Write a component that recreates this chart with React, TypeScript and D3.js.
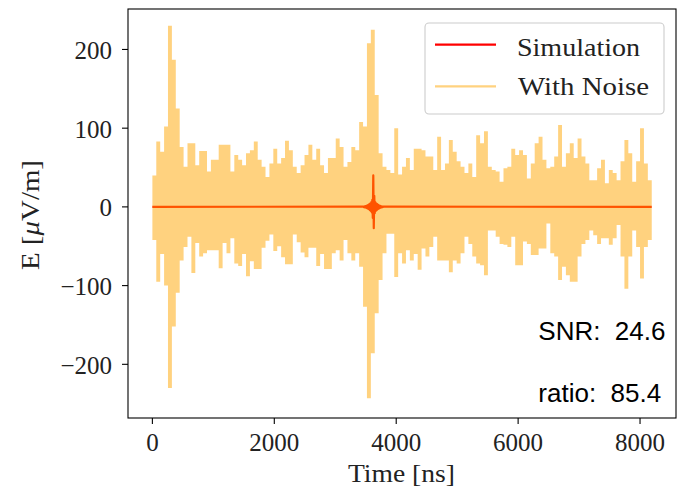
import React from "react";
import * as d3 from "d3";

const W = 679;
const H = 491;
const FRAME = { left: 128, right: 676, top: 9, bottom: 418 };

const xTicks = [0, 2000, 4000, 6000, 8000];
const yTicks = [-200, -100, 0, 100, 200];
const xTickLabels = ["0", "2000", "4000", "6000", "8000"];
const yTickLabels = ["\u2212200", "\u2212100", "0", "100", "200"];

// Noise trace: per 64 ns window, the highest and lowest excursion
const SEG_NS = 64;
const noiseHigh = [
  40, 83, 70, 102, 230, 187, 125, 76, 51, 81,
  81, 53, 71, 71, 45, 60, 60, 79, 79, 79,
  45, 66, 60, 53, 68, 72, 83, 60, 51, 38,
  55, 74, 55, 62, 84, 72, 51, 43, 53, 66,
  79, 60, 74, 53, 43, 62, 62, 87, 76, 51,
  57, 76, 72, 108, 102, 208, 225, 142, 68, 51,
  47, 43, 100, 41, 51, 62, 47, 74, 74, 72,
  64, 64, 47, 89, 47, 55, 85, 70, 58, 51,
  43, 55, 38, 91, 81, 96, 51, 47, 45, 32,
  49, 51, 74, 66, 72, 66, 36, 55, 81, 89,
  60, 49, 51, 64, 104, 51, 68, 81, 62, 87,
  64, 55, 34, 34, 49, 60, 30, 47, 43, 34,
  58, 85, 68, 32, 58, 100, 55, 34,
];
const noiseLow = [
  -42, -95, -60, -100, -230, -152, -109, -68, -51, -38,
  -84, -46, -63, -59, -55, -55, -55, -78, -46, -59,
  -40, -72, -75, -60, -88, -69, -79, -79, -52, -43,
  -35, -56, -50, -64, -73, -73, -35, -45, -58, -64,
  -52, -52, -75, -60, -79, -79, -59, -55, -68, -42,
  -59, -68, -59, -76, -127, -243, -186, -135, -93, -59,
  -34, -34, -89, -59, -72, -55, -68, -60, -80, -53,
  -63, -51, -38, -68, -68, -68, -83, -68, -72, -59,
  -38, -47, -63, -72, -74, -87, -30, -30, -38, -47,
  -48, -51, -38, -74, -74, -44, -47, -61, -61, -53,
  -53, -21, -59, -63, -93, -76, -87, -95, -95, -63,
  -47, -42, -30, -36, -47, -40, -40, -48, -40, -23,
  -63, -104, -63, -30, -51, -91, -51, -42,
];
const noiseEndTime = 8192;

// Simulation: flat, with a short pulse
const simStart = 0;
const simEnd = 8191;
const pulseStart = 3464;
const pulseStep = 8;
const pulseValues = [
  0.3, -0.4, 0.5, -0.6, 0.8, -1, 1.2, -1.5, 1.8, -2.2,
  2.6, -3, 3.5, -4, 4.5, -5, 6, -7, 9, -14,
  40, -27, 14, -8, 6, -5, 4.5, -4, 3.5, -3,
  2.6, -2.2, 1.8, -1.5, 1.2, -1, 0.8, -0.6, 0.5, -0.4, 0.3,
];

const snrText = "SNR:  24.6";
const ratioText = "ratio:  85.4";

const SERIF = "'Liberation Serif', 'DejaVu Serif', serif";
const SANS = "'Liberation Sans', Arial, sans-serif";

type Seg = { t: number; hi: number; lo: number };

export default function App() {
  const x = d3.scaleLinear().domain([-400, 8590]).range([FRAME.left, FRAME.right]);
  const y = d3.scaleLinear().domain([-268.2, 251.4]).range([FRAME.bottom, FRAME.top]);

  const segs: Seg[] = noiseHigh.map((h, i) => ({ t: i * SEG_NS, hi: h, lo: noiseLow[i] }));
  const last = segs[segs.length - 1];
  segs.push({ t: noiseEndTime, hi: last.hi, lo: last.lo });

  const noiseArea = d3
    .area<Seg>()
    .x((d) => x(d.t))
    .y0((d) => y(d.lo))
    .y1((d) => y(d.hi))
    .curve(d3.curveStepAfter);

  const simPts: [number, number][] = [[simStart, 0]];
  pulseValues.forEach((v, i) => simPts.push([pulseStart + i * pulseStep, v]));
  simPts.push([simEnd, 0]);

  const line = d3
    .line<[number, number]>()
    .x((d) => x(d[0]))
    .y((d) => y(d[1]));

  const legendX = 425;
  const legendY = 23;

  return (
    <svg width={W} height={H} style={{ display: "block", position: "absolute", left: 0, top: 0 }}>
      <rect x={0} y={0} width={W} height={H} fill="#ffffff" />
      <defs>
        <clipPath id="plotclip">
          <rect x={FRAME.left} y={FRAME.top} width={FRAME.right - FRAME.left} height={FRAME.bottom - FRAME.top} />
        </clipPath>
      </defs>
      <g clipPath="url(#plotclip)">
        <path d={line(simPts) || ""} fill="none" stroke="#ff0000" strokeWidth={2.2} strokeLinejoin="round" />
        <path d={noiseArea(segs) || ""} fill="#ffa500" fillOpacity={0.5} stroke="none" />
      </g>
      {/* frame */}
      <rect
        x={FRAME.left}
        y={FRAME.top}
        width={FRAME.right - FRAME.left}
        height={FRAME.bottom - FRAME.top}
        fill="none"
        stroke="#000"
        strokeWidth={1.1}
      />
      {/* x ticks */}
      {xTicks.map((t, i) => (
        <g key={"xt" + t}>
          <line x1={x(t)} x2={x(t)} y1={FRAME.bottom} y2={FRAME.bottom + 6} stroke="#000" strokeWidth={1.1} />
          <text x={x(t)} y={450.5} textAnchor="middle" fontFamily={SERIF} fontSize={25} fill="#222">
            {xTickLabels[i]}
          </text>
        </g>
      ))}
      {/* y ticks */}
      {yTicks.map((t, i) => (
        <g key={"yt" + t}>
          <line x1={FRAME.left - 6} x2={FRAME.left} y1={y(t)} y2={y(t)} stroke="#000" strokeWidth={1.1} />
          <text x={112} y={y(t) + 9.5} textAnchor="end" fontFamily={SERIF} fontSize={25} fill="#222">
            {yTickLabels[i]}
          </text>
        </g>
      ))}
      {/* axis labels */}
      <text
        x={401.5}
        y={482}
        textAnchor="middle"
        fontFamily={SERIF}
        fontSize={25}
        fill="#222"
        textLength={107}
        lengthAdjust="spacingAndGlyphs"
      >
        Time [ns]
      </text>
      <text
        transform="translate(38.5,215) rotate(-90)"
        textAnchor="middle"
        fontFamily={SERIF}
        fontSize={25}
        fill="#222"
        textLength={110}
        lengthAdjust="spacingAndGlyphs"
      >
        E [<tspan fontStyle="italic">μ</tspan>V/m]
      </text>
      {/* legend */}
      <rect
        x={legendX}
        y={legendY}
        width={239}
        height={91}
        rx={4}
        ry={4}
        fill="#ffffff"
        fillOpacity={0.8}
        stroke="#cccccc"
        strokeWidth={1.1}
      />
      <line x1={435} x2={496} y1={44.7} y2={44.7} stroke="#ff0000" strokeWidth={2.2} />
      <line x1={435} x2={496} y1={86.3} y2={86.3} stroke="#ffa500" strokeOpacity={0.5} strokeWidth={2.2} />
      <text
        x={517}
        y={55.5}
        fontFamily={SERIF}
        fontSize={25}
        fill="#222"
        textLength={123}
        lengthAdjust="spacingAndGlyphs"
      >
        Simulation
      </text>
      <text
        x={518}
        y={95.3}
        fontFamily={SERIF}
        fontSize={25}
        fill="#222"
        textLength={131}
        lengthAdjust="spacingAndGlyphs"
      >
        With Noise
      </text>
      {/* annotations */}
      <text x={538.3} y={340} fontFamily={SANS} fontSize={26} fill="#000" style={{ whiteSpace: "pre" }}>
        {snrText}
      </text>
      <text x={538.3} y={401.7} fontFamily={SANS} fontSize={26} fill="#000" style={{ whiteSpace: "pre" }}>
        {ratioText}
      </text>
    </svg>
  );
}
